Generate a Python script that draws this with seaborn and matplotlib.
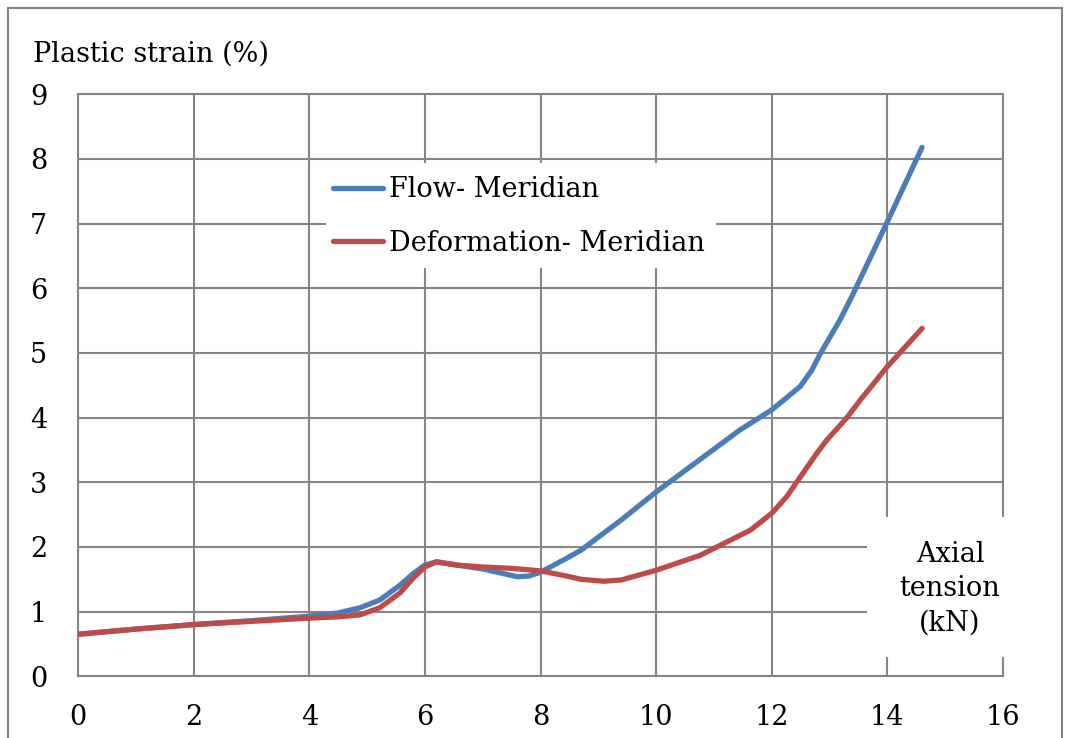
import matplotlib
matplotlib.use("Agg")
import matplotlib.pyplot as plt
from matplotlib.patches import Rectangle
import seaborn as sns
import pandas as pd

# Axial tension (kN) and plastic strain (%) for each solution
flow_x = [0, 1, 2, 3, 4, 4.5, 4.88, 5.22, 5.57, 5.8, 6, 6.2, 6.55, 7, 7.3, 7.6, 7.8, 8,
          8.4, 8.7, 9.4, 10, 10.8, 11.45, 12, 12.49, 12.69, 12.84, 13.18, 13.4, 14, 14.6]
flow_y = [0.65, 0.73, 0.80, 0.86, 0.93, 0.98, 1.06, 1.18, 1.41, 1.59, 1.72, 1.77, 1.72, 1.66,
          1.60, 1.54, 1.55, 1.61, 1.80, 1.95, 2.42, 2.85, 3.38, 3.81, 4.12, 4.48, 4.73, 4.99,
          5.51, 5.9, 7.03, 8.18]

deform_x = [0, 1, 2, 3, 4, 4.5, 4.88, 5.22, 5.57, 5.8, 6, 6.2, 6.55, 7, 7.5, 8, 8.4, 8.7,
            9.1, 9.4, 10, 10.76, 11.63, 12, 12.26, 12.43, 12.78, 12.95, 13.3, 13.53, 14, 14.6]
deform_y = [0.65, 0.73, 0.80, 0.85, 0.90, 0.92, 0.95, 1.06, 1.29, 1.52, 1.69, 1.77, 1.72,
            1.69, 1.67, 1.63, 1.56, 1.50, 1.47, 1.49, 1.64, 1.87, 2.26, 2.52, 2.78, 3.0,
            3.45, 3.65, 4.0, 4.27, 4.79, 5.38]

series_names = ["Flow- Meridian", "Deformation- Meridian"]
x_ticks = [0, 2, 4, 6, 8, 10, 12, 14, 16]
y_ticks = [0, 1, 2, 3, 4, 5, 6, 7, 8, 9]

df = pd.concat([
    pd.DataFrame({"tension": flow_x, "strain": flow_y, "series": series_names[0]}),
    pd.DataFrame({"tension": deform_x, "strain": deform_y, "series": series_names[1]}),
])

sns.set_theme(style="white")
plt.rcParams["font.family"] = ["DejaVu Serif"]
plt.rcParams["text.color"] = "black"

GRID = "#868686"
COLORS = ["#4A7EBB", "#BE4B48"]
FS = 19.5
W, H = 1069, 738
X0, X1, Y0, Y1 = 78, 1003, 676.3, 94.3


def ax_x(px):
    return (px - X0) / (X1 - X0)


def ax_y(py):
    return (Y0 - py) / (Y0 - Y1)


fig = plt.figure(figsize=(W / 100, H / 100), dpi=100)
ax = fig.add_axes([X0 / W, 1 - Y0 / H, (X1 - X0) / W, (Y0 - Y1) / H])

sns.lineplot(data=df, x="tension", y="strain", hue="series", sort=False,
             palette=COLORS, linewidth=3.8, ax=ax, legend=False,
             solid_capstyle="round", solid_joinstyle="round", zorder=3)

ax.set_xlim(0, 16)
ax.set_ylim(0, 9)
ax.set_xticks(x_ticks)
ax.set_yticks(y_ticks)
ax.set_xlabel("")
ax.set_ylabel("")
ax.grid(True, color=GRID, linewidth=1.5)
ax.set_axisbelow(True)
for s in ax.spines.values():
    s.set_color(GRID)
    s.set_linewidth(1.5)
ax.tick_params(axis="both", length=7.2, width=1.5, color=GRID, labelsize=FS,
               labelcolor="black")
ax.tick_params(axis="y", pad=15)
ax.tick_params(axis="x", pad=13)

# Legend panel on white background
ax.add_patch(Rectangle((ax_x(326), ax_y(268)), ax_x(716) - ax_x(326),
                       ax_y(163) - ax_y(268), transform=ax.transAxes, facecolor="white",
                       edgecolor="none", zorder=4, clip_on=False))
handles = [plt.Line2D([], [], color=c, linewidth=3.8, solid_capstyle="round")
           for c in COLORS]
leg = ax.legend(handles, series_names, frameon=False, fontsize=FS, handlelength=1.85,
                handletextpad=0.2, labelspacing=0.98, loc="upper left",
                borderpad=0, borderaxespad=0,
                bbox_to_anchor=(ax_x(333), ax_y(176)))
for t in leg.get_texts():
    t.set_color("black")

# X-axis title box
ax.add_patch(Rectangle((ax_x(867), ax_y(657)), ax_x(1033) - ax_x(867),
                       ax_y(517) - ax_y(657), transform=ax.transAxes, facecolor="white",
                       edgecolor="none", zorder=4, clip_on=False))
ax.text(ax_x(950), ax_y(589), "Axial\ntension\n(kN)", transform=ax.transAxes,
        ha="center", va="center", fontsize=FS, linespacing=1.36, zorder=5)

# Y-axis title
fig.text(33 / W, 1 - 62 / H, "Plastic strain (%)", fontsize=FS, ha="left",
         va="baseline")

# Chart border
fig.add_artist(Rectangle((8 / W, -0.02), (1062 - 8) / W, 1.02 - 8 / H,
                         transform=fig.transFigure, facecolor="none", edgecolor=GRID,
                         linewidth=1.5))

fig.savefig("out.png", dpi=100)
